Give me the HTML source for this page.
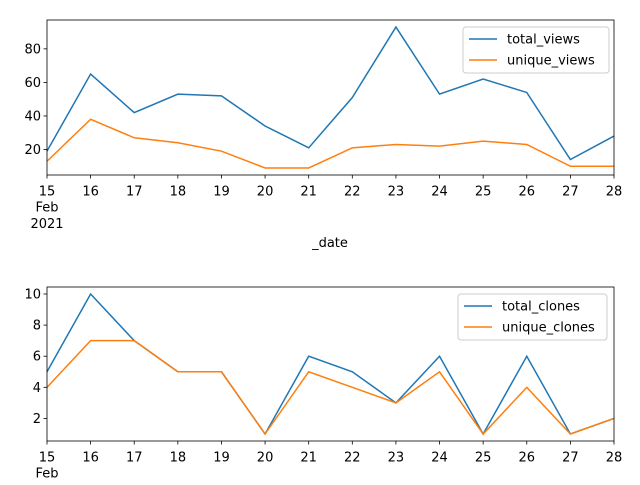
<!DOCTYPE html>
<html><head><meta charset="utf-8">
<style>
body{margin:0;background:#fff;}
svg text{font-family:"DejaVu Sans","Liberation Sans",sans-serif;font-size:13px;fill:#000;}
</style></head>
<body>
<svg id="chart" width="640" height="480" xmlns="http://www.w3.org/2000/svg"></svg>
<script>
const days = [15,16,17,18,19,20,21,22,23,24,25,26,27,28];
const totalViews = [19,65,42,53,52,34,21,51,93,53,62,54,14,28];
const uniqueViews = [13,38,27,24,19,9,9,21,23,22,25,23,10,10];
const totalClones = [5,10,7,5,5,1,6,5,3,6,1,6,1,2];
const uniqueClones = [4,7,7,5,5,1,5,4,3,5,1,4,1,2];
const viewTicks = [20,40,60,80];
const cloneTicks = [2,4,6,8,10];

const svg = document.getElementById('chart');
const NS = 'http://www.w3.org/2000/svg';
function mk(tag, attrs, parent){const e=document.createElementNS(NS,tag);for(const k in attrs)e.setAttribute(k,attrs[k]);(parent||svg).appendChild(e);return e;}

function panel(cfg){
  const {x0,x1,y0,y1,series,ticks,names,legend,name} = cfg;
  const g = mk('g',{});
  
  
  const all = series.flat();
  const mn = Math.min(...all), mx = Math.max(...all), m=(mx-mn)*0.05;
  const lo = mn-m, hi = mx+m;
  const X = d => x0 + (d-days[0])/(days[days.length-1]-days[0])*(x1-x0);
  const Y = v => y1 - (v-lo)/(hi-lo)*(y1-y0);
  const colors=['#1f77b4','#ff7f0e'];
  series.forEach((s,i)=>{
    const p = mk('polyline',{points:s.map((v,j)=>X(days[j])+','+Y(v)).join(' '),fill:'none',stroke:colors[i],'stroke-width':1.5},g);
    
    
  });
  mk('rect',{x:x0,y:y0,width:x1-x0,height:y1-y0,fill:'none',stroke:'#000','stroke-width':0.8},g);
  ticks.forEach(t=>{
    const y=Y(t);
    mk('line',{x1:x0-3.5,x2:x0,y1:y,y2:y,stroke:'#000','stroke-width':0.8},g);
    const tx=mk('text',{x:x0-6,y:y+4.5,'text-anchor':'end'},g);tx.textContent=t;
    
    
  });
  days.forEach(d=>{
    const x=X(d);
    mk('line',{x1:x,x2:x,y1:y1,y2:y1+3.5,stroke:'#000','stroke-width':0.8},g);
    const tx=mk('text',{x:x,y:y1+20.5,'text-anchor':'middle'},g);tx.textContent=d;
    
    
  });
  const feb=mk('text',{x:X(15),y:y1+36.5,'text-anchor':'middle'},g);feb.textContent='Feb';
  const [lx,ly,lw]=legend;
  const lg=mk('g',{},g);
  
  
  mk('rect',{x:lx,y:ly,width:lw,height:46,rx:3,fill:'#fff','fill-opacity':0.8,stroke:'#ccc'},lg);
  names.forEach((n,i)=>{
    const yy=ly+12+i*21;
    mk('line',{x1:lx+6,x2:lx+34,y1:yy,y2:yy,stroke:colors[i],'stroke-width':1.5},lg);
    const t=mk('text',{x:lx+44,y:yy+4.5},lg);t.textContent=n;
    
    
  });
  return g;
}
panel({x0:47,x1:614,y0:20,y1:175,series:[totalViews,uniqueViews],ticks:viewTicks,names:['total_views','unique_views'],legend:[463,27,146],name:'views-panel'});
const yr=mk('text',{x:47,y:228,'text-anchor':'middle'});yr.textContent='2021';
const xl=mk('text',{x:330,y:247,'text-anchor':'middle'});xl.textContent='_date';


panel({x0:47,x1:614,y0:287,y1:441,series:[totalClones,uniqueClones],ticks:cloneTicks,names:['total_clones','unique_clones'],legend:[458,294,149],name:'clones-panel'});
</script>
</body></html>
